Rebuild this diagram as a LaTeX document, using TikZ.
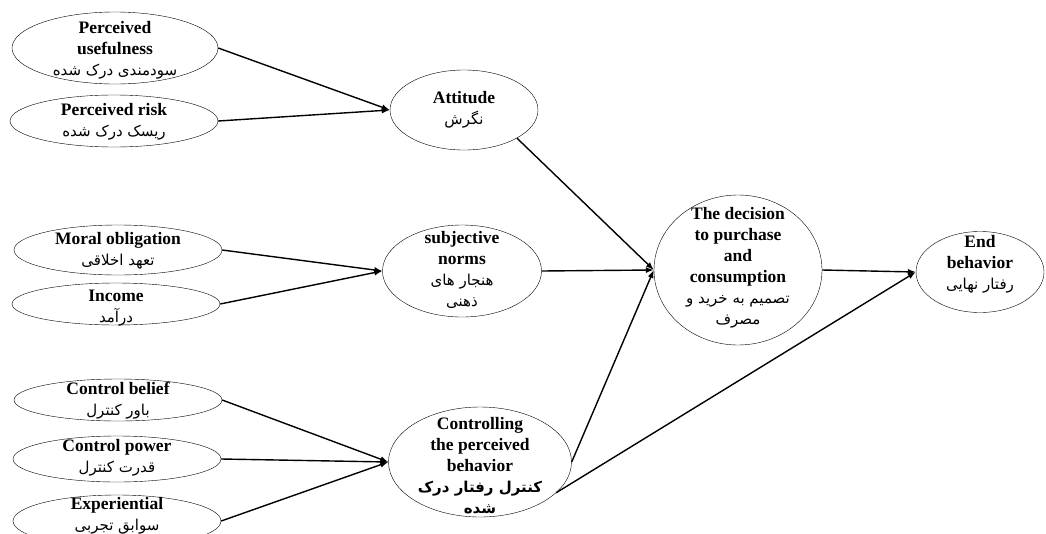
\documentclass[tikz,border=0pt]{standalone}
\usepackage{fontspec}
\setmainfont{Liberation Serif}
\newfontfamily\arabicfont[Script=Arabic]{DejaVu Sans}
\TeXXeTstate=1
\usetikzlibrary{shapes.geometric,arrows.meta}

\newcommand{\fa}[1]{{\arabicfont\mdseries\fontsize{15}{21}\selectfont\beginR #1\endR}}
\newcommand{\fab}[1]{{\arabicfont\bfseries\fontsize{15}{21}\selectfont\beginR #1\endR}}

\tikzset{
  factor/.style={draw, ellipse, thin, inner sep=0pt},
  txt/.style={align=center, inner sep=0pt, font=\bfseries\fontsize{17.5}{21}\selectfont},
  link/.style={line width=1.4pt, -{Latex[length=8pt,width=6pt]}}
}

\begin{document}
\begin{tikzpicture}[x=1pt,y=-1pt]

\useasboundingbox (0,0) rectangle (1046,533);

%input factors
\node[factor, minimum width=206, minimum height=72] at (115, 48)(pu){};
\node[factor, minimum width=208, minimum height=52] at (114, 121)(pr){};
\node[factor, minimum width=208, minimum height=50] at (118, 250)(mo){};
\node[factor, minimum width=208, minimum height=42] at (116, 304)(inc){};
\node[factor, minimum width=208, minimum height=42] at (118, 400)(cb){};
\node[factor, minimum width=208, minimum height=46] at (117, 459)(cpw){};
\node[factor, minimum width=208, minimum height=52] at (117, 521)(ex){};

\node[txt] at (115, 50)(pu-t){Perceived\\usefulness\\\fa{سودمندی درک شده}};
\node[txt] at (114, 122)(pr-t){Perceived risk\\\fa{ریسک درک شده}};
\node[txt] at (118, 251)(mo-t){Moral obligation\\\fa{تعهد اخلاقی}};
\node[txt] at (116, 308)(inc-t){Income\\\fa{درآمد}};
\node[txt] at (118, 401)(cb-t){Control belief\\\fa{باور کنترل}};
\node[txt] at (117, 458)(cpw-t){Control power\\\fa{قدرت کنترل}};
\node[txt] at (117, 516)(ex-t){Experiential\\\fa{سوابق تجربی}};

%middle factors
\node[factor, minimum width=148, minimum height=80] at (464, 110)(att){};
\node[factor, minimum width=159, minimum height=92] at (462, 271)(sn){};
\node[factor, minimum width=183, minimum height=110] at (480, 462)(cpb){};

\node[txt] at (464, 110)(att-t){Attitude\\\fa{نگرش}};
\node[txt] at (462, 270)(sn-t){subjective\\norms\\\fa{هنجار های}\\\fa{ذهنی}};
\node[txt] at (480, 466)(cpb-t){Controlling\\the perceived\\behavior\\\fab{کنترل رفتار درک}\\\fab{شده}};

%outcome
\node[factor, minimum width=168, minimum height=150] at (738, 270)(dec){};
\node[factor, minimum width=128, minimum height=81] at (980, 272)(end){};

\node[txt] at (738, 268)(dec-t){The decision\\to purchase\\and\\consumption\\\fa{تصمیم به خرید و}\\\fa{مصرف}};
\node[txt] at (980, 264)(end-t){End\\behavior\\\fa{رفتار نهایی}};

%links
\draw[link] (pu.east) -- (att.west);
\draw[link] (pr.east) -- (att.west);
\draw[link] (mo.east) -- (sn.west);
\draw[link] (inc.east) -- (sn.west);
\draw[link] (cb.east) -- (cpb.west);
\draw[link] (cpw.east) -- (cpb.west);
\draw[link] (ex.east) -- (cpb.west);
\draw[link] (att.-28) -- (dec.west);
\draw[link] (sn.east) -- (dec.west);
\draw[link] (cpb.east) -- (dec.west);
\draw[link] (cpb.-22) -- (end.west);
\draw[link] (dec.east) -- (end.west);

\end{tikzpicture}
\end{document}
